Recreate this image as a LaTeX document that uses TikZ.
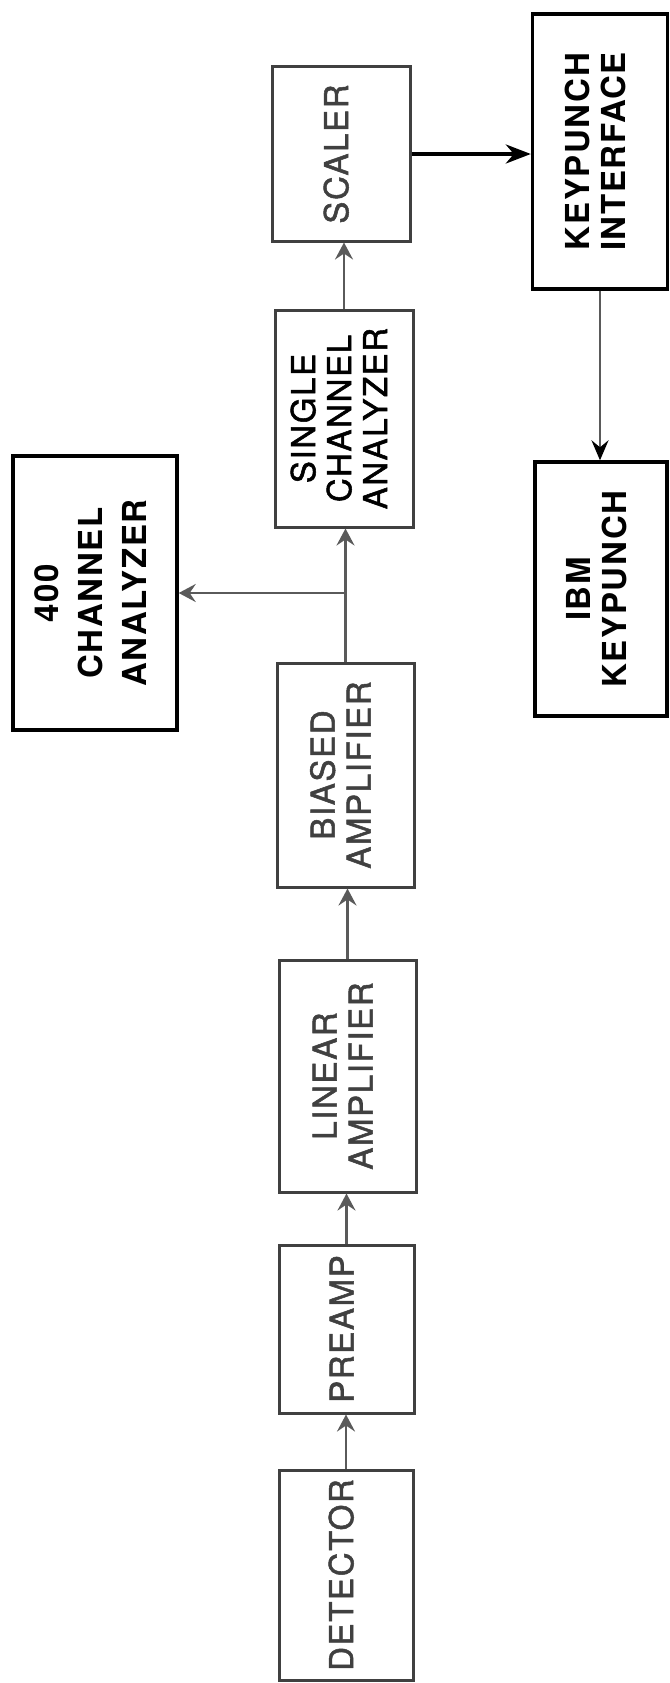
\documentclass[tikz,border=0pt]{standalone}
\usepackage{fontspec}
\setmainfont[LetterSpace=5]{TeX Gyre Heros}
\newfontfamily\heavyfont[LetterSpace=5,FakeBold=1.6]{TeX Gyre Heros}
\usepackage{graphicx}
\usetikzlibrary{arrows.meta}
\definecolor{ink}{HTML}{404040}
\definecolor{wire}{HTML}{5A5A5A}
\newcommand{\vlabel}[1]{\rotatebox{90}{\begin{tabular}{@{}c@{}}#1\end{tabular}}}

\begin{document}
\begin{tikzpicture}[x=1pt,y=-1pt,
    block/.style={draw=ink,line width=3pt,text=ink,inner sep=0pt,font=\heavyfont\fontsize{33}{36}\selectfont},
    darkblock/.style={block,draw=black,text=black,line width=3.4pt,font=\bfseries\fontsize{33}{36}\selectfont},
    flow/.style={draw=wire,line width=2.6pt,-{Stealth[length=17pt,width=18pt,inset=6pt]}},
    bigflow/.style={draw=black,line width=3.8pt,-{Stealth[length=25pt,width=19pt,inset=8pt]}}]
  \useasboundingbox (0,0) rectangle (669,1683);
  % main chain, bottom to top
  \node[block,minimum width=134pt,minimum height=210pt] (detector) at (346,1575) {\vlabel{DETECTOR}};
  \node[block,minimum width=135pt,minimum height=168pt] (preamp) at (346.5,1329) {\vlabel{PREAMP}};
  \node[block,minimum width=137pt,minimum height=232pt] (linear) at (347.5,1076) {\vlabel{LINEAR\\AMPLIFIER}};
  \node[block,minimum width=137pt,minimum height=224pt] (biased) at (345.5,775) {\vlabel{BIASED\\AMPLIFIER}};
  \node[block,text=black,minimum width=138pt,minimum height=217pt] (sca) at (344,418.5) {\vlabel{SINGLE\\CHANNEL\\ANALYZER}};
  \node[block,minimum width=138pt,minimum height=174pt] (scaler) at (341,154) {\vlabel{SCALER}};
  % side branches
  \node[darkblock,minimum width=164pt,minimum height=274pt] (ca400) at (95,593) {\vlabel{400\\[8pt]CHANNEL\\[8pt]ANALYZER}};
  \node[darkblock,minimum width=135pt,minimum height=275pt] (kpi) at (600,151.5) {\vlabel{KEYPUNCH\\INTERFACE}};
  \node[darkblock,minimum width=132pt,minimum height=254pt] (ibm) at (601,589) {\vlabel{IBM\\KEYPUNCH}};
  \draw[flow] (detector.north) -- (detector.north |- preamp.south);
  \draw[flow] (preamp.north) -- (preamp.north |- linear.south);
  \draw[flow] (linear.north) -- (linear.north |- biased.south);
  \draw[flow] (biased.north) -- (biased.north |- sca.south);
  \coordinate (tap) at (biased.north |- ca400.east);
  \draw[flow] (tap) -- (ca400.east);
  \draw[flow] (sca.north) -- (sca.north |- scaler.south);
  \draw[bigflow] (scaler.east) -- (scaler.east -| kpi.west);
  \draw[flow,-{Stealth[length=20pt,width=17pt,inset=7pt,black]}] (kpi.south) -- (kpi.south |- ibm.north);
\end{tikzpicture}
\end{document}
